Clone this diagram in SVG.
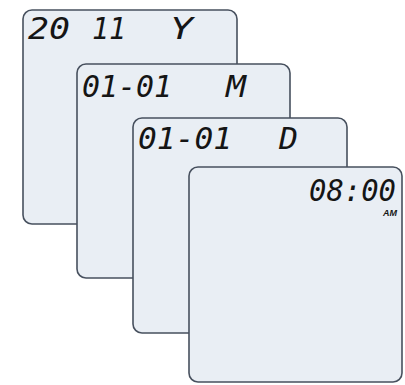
<svg xmlns="http://www.w3.org/2000/svg" width="405" height="385" viewBox="0 0 405 385">
<style>
.panel{fill:#e9eef4;stroke:#47505e;stroke-width:1.6}
.seg{font-family:"DejaVu Sans Mono","Liberation Mono",monospace;font-style:oblique;fill:#151515;font-size:31px}
.am{font-family:"Liberation Sans",Arial,sans-serif;font-style:italic;font-weight:bold;fill:#151515;font-size:9px}
</style>
<rect width="405" height="385" fill="#ffffff"/>
<g id="year">
<rect class="panel" x="23" y="10" width="214" height="214" rx="9"/>
<text class="seg" x="28" y="39" textLength="42" lengthAdjust="spacingAndGlyphs">20</text>
<text class="seg" x="92" y="39" textLength="34" lengthAdjust="spacingAndGlyphs">11</text>
<text class="seg" x="170" y="39" textLength="23" lengthAdjust="spacingAndGlyphs">Y</text>
</g>
<g id="month">
<rect class="panel" x="77" y="64" width="213" height="214" rx="9"/>
<text class="seg" x="82" y="97" textLength="90" lengthAdjust="spacingAndGlyphs">01-01</text>
<text class="seg" x="226" y="97" textLength="20" lengthAdjust="spacingAndGlyphs">M</text>
</g>
<g id="day">
<rect class="panel" x="133" y="118" width="214" height="215" rx="9"/>
<text class="seg" x="138" y="149" textLength="94" lengthAdjust="spacingAndGlyphs">01-01</text>
<text class="seg" x="279" y="149" textLength="19" lengthAdjust="spacingAndGlyphs">D</text>
</g>
<g id="time">
<rect class="panel" x="189" y="167" width="213" height="215" rx="9"/>
<text class="seg" x="309" y="201" font-size="38" textLength="87" lengthAdjust="spacingAndGlyphs">08:00</text>
<text class="am" x="383" y="216" textLength="14" lengthAdjust="spacingAndGlyphs">AM</text>
</g>
<g id="connectors"/>
</svg>
